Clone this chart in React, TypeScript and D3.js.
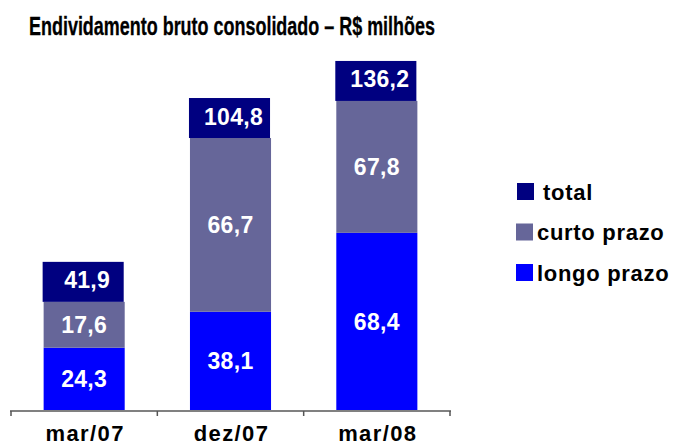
import React from "react";
import * as d3 from "d3";

const categories = ["mar/07", "dez/07", "mar/08"];
const longoPrazo = [24.3, 38.1, 68.4];
const curtoPrazo = [17.6, 66.7, 67.8];
const totals = [41.9, 104.8, 136.2];
const legendItems = [
  { key: "total", label: "total", color: "#000080" },
  { key: "curto", label: "curto prazo", color: "#666699" },
  { key: "longo", label: "longo prazo", color: "#0000FF" },
];
const fmt = (v: number) => v.toFixed(1).replace(".", ",");

const W = 680;
const H = 445;
const BASE = 411;
const BOX_H = 40;
const FONT = "'Liberation Sans', Arial, Helvetica, sans-serif";

export default function App() {
  const x = d3
    .scaleBand<string>()
    .domain(categories)
    .range([11, 450])
    .paddingInner(0.446)
    .paddingOuter(0.223);
  // axis compressed above ~105 (broken scale as in the original)
  const y = d3.scaleLinear().domain([0, 105, 140]).range([BASE, 137.5, 96.5]);
  const bw = x.bandwidth();
  const step = x.step();
  const ticks = d3.range(categories.length + 1).map((i) => 11 + i * step);

  const segTxt = {
    fill: "#fff",
    fontFamily: FONT,
    fontWeight: 700,
    fontSize: 23,
    letterSpacing: 0.3,
    textAnchor: "middle" as const,
    dominantBaseline: "central" as const,
  };

  return (
    <svg
      width={W}
      height={H}
      style={{ position: "absolute", left: 0, top: 0, background: "#fff" }}
    >
      <text
        x={29}
        y={34.5}
        fontFamily={FONT}
        fontWeight={700}
        fontSize={25}
        textLength={406}
        lengthAdjust="spacingAndGlyphs"
        fill="#000"
        stroke="#000"
        strokeWidth={0.3}
      >
        Endividamento bruto consolidado – R$ milhões
      </text>

      {categories.map((c, i) => {
        const x0 = x(c)!;
        const cx = x0 + bw / 2;
        const yL = y(longoPrazo[i]);
        const yT = y(longoPrazo[i] + curtoPrazo[i]);
        return (
          <g key={c}>
            <rect x={x0} y={yL} width={bw} height={BASE - yL} fill="#0000FF" />
            <rect x={x0} y={yT} width={bw} height={yL - yT} fill="#666699" />
            <rect x={x0 - 1} y={yT - BOX_H} width={bw} height={BOX_H} fill="#000080" />
            <text {...segTxt} x={cx} y={(yL + BASE) / 2}>
              {fmt(longoPrazo[i])}
            </text>
            <text {...segTxt} x={cx} y={(yL + yT) / 2}>
              {fmt(curtoPrazo[i])}
            </text>
            <text {...segTxt} x={cx + 3} y={yT - BOX_H / 2 - 1.5}>
              {fmt(totals[i])}
            </text>
            <text
              x={cx + 1}
              y={441}
              textAnchor="middle"
              fontFamily={FONT}
              fontWeight={700}
              fontSize={22}
              letterSpacing={1.4}
              fill="#000"
            >
              {c}
            </text>
          </g>
        );
      })}

      <line x1={10} x2={451} y1={BASE} y2={BASE} stroke="#808080" strokeWidth={2} />
      {ticks.map((t, i) => (
        <line key={i} x1={t} x2={t} y1={BASE} y2={BASE + 5} stroke="#555" strokeWidth={1.5} />
      ))}

      {legendItems.map((d, i) => {
        const sy = 183 + i * 40.5;
        return (
          <g key={d.key}>
            <rect x={i === 0 ? 517 : 516} y={sy} width={17} height={17} fill={d.color} />
            <text
              x={i === 0 ? 543 : 537}
              y={sy + 16.5}
              fontFamily={FONT}
              fontWeight={700}
              fontSize={22}
              letterSpacing={0.7}
              fill="#000"
            >
              {d.label}
            </text>
          </g>
        );
      })}
    </svg>
  );
}
